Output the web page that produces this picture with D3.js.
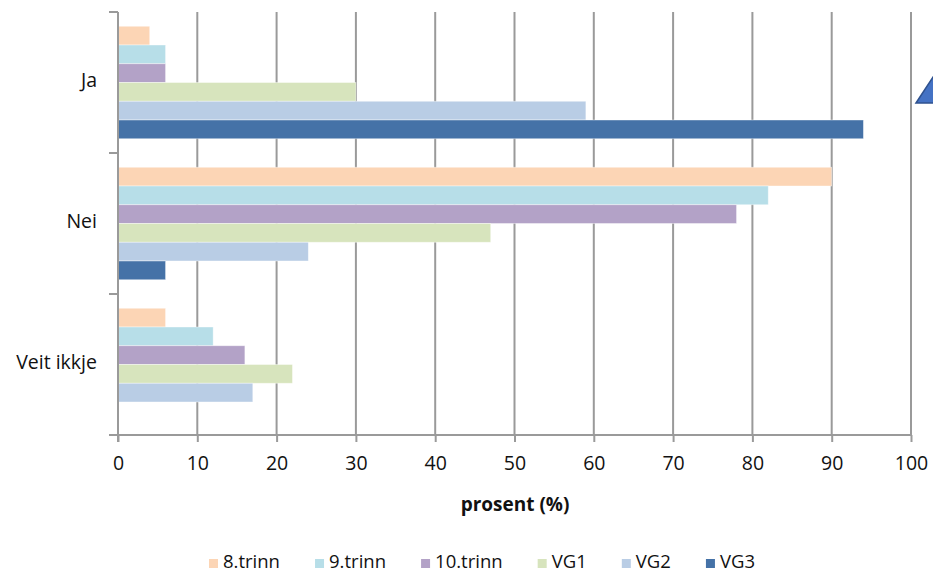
<!DOCTYPE html>
<html>
<head>
<meta charset="utf-8">
<script src="https://cdn.jsdelivr.net/npm/d3@7"></script>
<style>
  html, body { margin: 0; padding: 0; background: #fff; }
  svg { display: block; font-family: "Open Sans", sans-serif; }
</style>
</head>
<body>
<svg id="chart" width="933" height="575"></svg>
<script>
// Answer categories (top to bottom) and school levels (series)
const categories = ["Ja", "Nei", "Veit ikkje"];
const seriesNames = ["8.trinn", "9.trinn", "10.trinn", "VG1", "VG2", "VG3"];
const seriesColors = ["#FCD5B5", "#B7DEE8", "#B3A2C7", "#D7E4BD", "#B9CDE5", "#4572A7"];

// Percentage per series, in category order
const s8trinn  = [4, 90, 6];
const s9trinn  = [6, 82, 12];
const s10trinn = [6, 78, 16];
const sVG1     = [30, 47, 22];
const sVG2     = [59, 24, 17];
const sVG3     = [94, 6, 0];
const seriesValues = [s8trinn, s9trinn, s10trinn, sVG1, sVG2, sVG3];

const xTicks = [0, 10, 20, 30, 40, 50, 60, 70, 80, 90, 100];
const xTitle = "prosent (%)";

const svg = d3.select("#chart");
const plot = { left: 118, right: 911, top: 12, bottom: 435 };
const FONT = 19.5;
const GRID = "#9a9a9a";

const x = d3.scaleLinear().domain([0, 100]).range([plot.left, plot.right]);
const y = d3.scaleBand().domain(categories).range([plot.top, plot.bottom]).padding(0);
const ySub = d3.scaleBand().domain(seriesNames).range([0, y.bandwidth()])
  .paddingInner(0).paddingOuter(0.76);

// vertical gridlines
svg.append("g").selectAll("line").data(xTicks.slice(1)).join("line")
  .attr("x1", d => x(d)).attr("x2", d => x(d))
  .attr("y1", plot.top).attr("y2", plot.bottom)
  .attr("stroke", GRID).attr("stroke-width", 2);

// bars
const rows = [];
categories.forEach((c, ci) => {
  seriesNames.forEach((s, si) => {
    rows.push({ cat: c, series: s, value: seriesValues[si][ci], color: seriesColors[si] });
  });
});
svg.append("g").selectAll("rect").data(rows.filter(d => d.value > 0)).join("rect")
  .attr("x", x(0))
  .attr("y", d => y(d.cat) + ySub(d.series))
  .attr("width", d => x(d.value) - x(0))
  .attr("height", ySub.bandwidth())
  .attr("fill", d => d.color)
  .attr("stroke", "#ffffff").attr("stroke-opacity", 0.5).attr("stroke-width", 0.8);

// x axis
const xAxis = d3.axisBottom(x).tickValues(xTicks).tickSize(7).tickPadding(14).tickFormat(d3.format("d"));
const gx = svg.append("g").attr("transform", `translate(0,${plot.bottom})`).call(xAxis);
gx.select(".domain").attr("stroke", GRID).attr("stroke-width", 2)
  .attr("d", `M${plot.left - 9},0H${plot.right}`);
gx.selectAll(".tick line").attr("stroke", GRID).attr("stroke-width", 2);
gx.selectAll(".tick text").attr("font-size", FONT).attr("fill", "#111")
  .attr("font-family", "'Open Sans', sans-serif");

// y axis: labels centred on bands, ticks at band boundaries
const gy = svg.append("g");
gy.append("line").attr("x1", plot.left).attr("x2", plot.left)
  .attr("y1", plot.top).attr("y2", plot.bottom + 7)
  .attr("stroke", GRID).attr("stroke-width", 2);
const boundaries = categories.map(c => y(c)).concat([plot.bottom]);
gy.selectAll("line.tk").data(boundaries.slice(0, -1)).join("line").attr("class", "tk")
  .attr("x1", plot.left - 9).attr("x2", plot.left)
  .attr("y1", d => d).attr("y2", d => d)
  .attr("stroke", GRID).attr("stroke-width", 2);
gy.selectAll("text").data(categories).join("text")
  .attr("x", plot.left - 21)
  .attr("y", d => y(d) + y.bandwidth() / 2 - 1)
  .attr("text-anchor", "end").attr("dominant-baseline", "middle")
  .attr("font-size", FONT).attr("fill", "#111")
  .text(d => d);

// x axis title
svg.append("text")
  .attr("x", 515).attr("y", 511)
  .attr("text-anchor", "middle").attr("font-size", 19).attr("font-weight", "bold")
  .attr("fill", "#111").text(xTitle);

// legend: spread the items evenly between the two outer edges
const legendLeft = 209, legendRight = 755, swatch = 9, swatchGap = 5;
const legend = svg.append("g").attr("transform", "translate(0,563)");
const items = seriesNames.map((s, i) => {
  const g = legend.append("g");
  g.append("rect").attr("x", 0).attr("y", -4).attr("width", swatch).attr("height", swatch)
    .attr("fill", seriesColors[i]);
  const t = g.append("text").attr("x", swatch + swatchGap).attr("y", 0)
    .attr("dominant-baseline", "middle").attr("font-size", 18.5).attr("fill", "#111").text(s);
  return { g, w: swatch + swatchGap + t.node().getComputedTextLength() };
});
const totalW = d3.sum(items, d => d.w);
const gap = (legendRight - legendLeft - totalW) / (items.length - 1);
let lx = legendLeft;
items.forEach(it => { it.g.attr("transform", `translate(${lx},0)`); lx += it.w + gap; });

// decorative shape at the right edge
svg.append("polygon")
  .attr("points", "916,103 937,71 962,103")
  .attr("fill", "#4472C4").attr("stroke", "#2F528F").attr("stroke-width", 1.5);
</script>
</body>
</html>
